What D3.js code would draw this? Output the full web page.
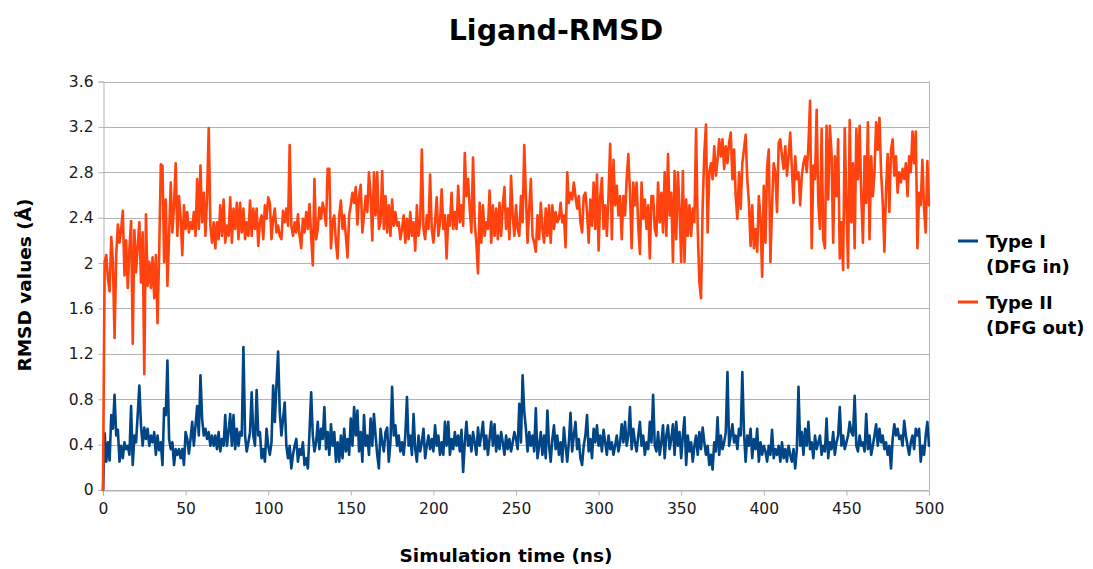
<!DOCTYPE html>
<html>
<head>
<meta charset="utf-8">
<script src="https://cdn.jsdelivr.net/npm/d3@7"></script>
<style>
  html, body { margin: 0; padding: 0; background: #ffffff; }
  svg { display: block; font-family: "DejaVu Sans", sans-serif; }
</style>
</head>
<body>
<svg id="chart" width="1093" height="569"></svg>
<script>
// Ligand RMSD over a 500 ns trajectory, one frame per ns
const seriesNames = ["Type I (DFG in)", "Type II (DFG out)"];
const seriesColors = ["#004586", "#ff420e"];

const typeI = [
  0, 0.50, 0.25, 0.42, 0.26, 0.66, 0.54, 0.84, 0.48, 0.53,
  0.25, 0.39, 0.28, 0.42, 0.36, 0.39, 0.31, 0.74, 0.22, 0.48,
  0.42, 0.66, 0.92, 0.57, 0.39, 0.55, 0.45, 0.54, 0.39, 0.48,
  0.42, 0.51, 0.31, 0.48, 0.35, 0.42, 0.22, 0.72, 0.66, 1.14,
  0.45, 0.36, 0.42, 0.22, 0.36, 0.31, 0.36, 0.28, 0.36, 0.22,
  0.51, 0.45, 0.32, 0.45, 0.60, 0.39, 0.57, 0.74, 0.48, 1.01,
  0.63, 0.48, 0.54, 0.45, 0.51, 0.39, 0.48, 0.39, 0.48, 0.36,
  0.51, 0.34, 0.45, 0.39, 0.66, 0.39, 0.51, 0.67, 0.39, 0.66,
  0.36, 0.54, 0.39, 0.51, 0.48, 1.26, 0.48, 0.34, 0.42, 0.51,
  0.86, 0.48, 0.39, 0.88, 0.48, 0.51, 0.28, 0.36, 0.25, 0.54,
  0.39, 0.31, 0.42, 0.92, 0.60, 0.93, 1.22, 0.69, 0.48, 0.63,
  0.77, 0.39, 0.28, 0.39, 0.19, 0.31, 0.39, 0.45, 0.25, 0.36,
  0.31, 0.42, 0.22, 0.28, 0.19, 0.51, 0.86, 0.48, 0.34, 0.42,
  0.60, 0.36, 0.54, 0.45, 0.73, 0.36, 0.51, 0.31, 0.58, 0.39,
  0.51, 0.25, 0.42, 0.25, 0.48, 0.28, 0.54, 0.34, 0.45, 0.31,
  0.63, 0.39, 0.73, 0.48, 0.70, 0.34, 0.51, 0.25, 0.66, 0.39,
  0.48, 0.31, 0.63, 0.39, 0.67, 0.48, 0.31, 0.19, 0.54, 0.42,
  0.34, 0.51, 0.55, 0.25, 0.42, 0.91, 0.48, 0.57, 0.39, 0.48,
  0.34, 0.42, 0.31, 0.48, 0.82, 0.39, 0.48, 0.31, 0.67, 0.36,
  0.25, 0.48, 0.34, 0.42, 0.54, 0.28, 0.39, 0.48, 0.36, 0.45,
  0.34, 0.57, 0.39, 0.48, 0.31, 0.42, 0.31, 0.60, 0.39, 0.60,
  0.31, 0.45, 0.36, 0.51, 0.39, 0.48, 0.34, 0.53, 0.16, 0.42,
  0.60, 0.39, 0.48, 0.34, 0.51, 0.42, 0.31, 0.55, 0.39, 0.48,
  0.60, 0.36, 0.48, 0.31, 0.45, 0.60, 0.39, 0.58, 0.34, 0.48,
  0.36, 0.51, 0.42, 0.31, 0.48, 0.36, 0.45, 0.34, 0.42, 0.51,
  0.45, 0.36, 0.76, 0.42, 1.01, 0.69, 0.54, 0.34, 0.51, 0.39,
  0.48, 0.34, 0.72, 0.28, 0.39, 0.51, 0.31, 0.48, 0.28, 0.70,
  0.39, 0.25, 0.45, 0.57, 0.36, 0.48, 0.31, 0.42, 0.25, 0.55,
  0.39, 0.25, 0.42, 0.68, 0.34, 0.48, 0.60, 0.36, 0.45, 0.28,
  0.22, 0.39, 0.48, 0.66, 0.34, 0.45, 0.28, 0.54, 0.42, 0.57,
  0.39, 0.48, 0.34, 0.53, 0.42, 0.31, 0.48, 0.36, 0.42, 0.31,
  0.39, 0.48, 0.34, 0.42, 0.58, 0.42, 0.60, 0.39, 0.48, 0.73,
  0.36, 0.54, 0.42, 0.34, 0.48, 0.60, 0.39, 0.48, 0.31, 0.42,
  0.36, 0.60, 0.42, 0.84, 0.39, 0.34, 0.51, 0.31, 0.42, 0.57,
  0.28, 0.48, 0.57, 0.36, 0.45, 0.58, 0.31, 0.60, 0.39, 0.51,
  0.28, 0.48, 0.64, 0.22, 0.48, 0.34, 0.42, 0.25, 0.39, 0.48,
  0.31, 0.51, 0.36, 0.55, 0.42, 0.31, 0.39, 0.22, 0.31, 0.18,
  0.42, 0.34, 0.64, 0.31, 0.48, 0.36, 0.42, 0.51, 1.04, 0.39,
  0.48, 0.58, 0.42, 0.48, 0.36, 0.54, 0.48, 1.04, 0.51, 0.25,
  0.48, 0.39, 0.54, 0.28, 0.45, 0.36, 0.54, 0.25, 0.42, 0.31,
  0.39, 0.34, 0.25, 0.39, 0.31, 0.53, 0.28, 0.36, 0.31, 0.39,
  0.25, 0.42, 0.28, 0.36, 0.25, 0.39, 0.31, 0.25, 0.36, 0.19,
  0.36, 0.91, 0.39, 0.51, 0.31, 0.54, 0.39, 0.60, 0.36, 0.42,
  0.28, 0.48, 0.36, 0.42, 0.48, 0.31, 0.39, 0.34, 0.63, 0.28,
  0.42, 0.36, 0.51, 0.31, 0.42, 0.48, 0.73, 0.39, 0.48, 0.36,
  0.42, 0.48, 0.60, 0.51, 0.48, 0.83, 0.39, 0.34, 0.48, 0.39,
  0.42, 0.34, 0.67, 0.36, 0.48, 0.31, 0.39, 0.48, 0.58, 0.39,
  0.54, 0.42, 0.48, 0.36, 0.42, 0.31, 0.39, 0.19, 0.45, 0.58,
  0.48, 0.54, 0.45, 0.48, 0.39, 0.61, 0.48, 0.39, 0.31, 0.42,
  0.48, 0.36, 0.54, 0.48, 0.54, 0.25, 0.39, 0.31, 0.48, 0.60, 0.39
];

const typeII = [
  0, 2.01, 2.07, 1.86, 1.75, 2.23, 2.01, 1.34, 2.07, 2.34,
  2.18, 2.30, 2.46, 1.89, 2.20, 1.78, 2.13, 2.37, 1.29, 2.29,
  1.92, 2.15, 2.36, 1.83, 2.27, 1.02, 2.43, 1.80, 2.01, 1.78,
  2.05, 1.69, 2.07, 1.47, 2.08, 2.87, 2.86, 2.01, 2.56, 1.80,
  2.24, 2.71, 2.27, 2.51, 2.88, 2.24, 2.59, 2.39, 2.07, 2.51,
  2.30, 2.45, 2.27, 2.36, 2.30, 2.45, 2.24, 2.74, 2.30, 2.86,
  2.36, 2.62, 2.24, 2.59, 3.19, 2.33, 2.18, 2.36, 2.13, 2.36,
  2.21, 2.51, 2.24, 2.56, 2.18, 2.33, 2.24, 2.58, 2.18, 2.48,
  2.30, 2.53, 2.21, 2.53, 2.27, 2.48, 2.21, 2.36, 2.24, 2.55,
  2.24, 2.48, 2.30, 2.48, 2.15, 2.36, 2.42, 2.21, 2.51, 2.39,
  2.58, 2.53, 2.21, 2.39, 2.48, 2.27, 2.33, 2.24, 2.21, 2.46,
  2.36, 2.48, 2.33, 3.04, 2.33, 2.24, 2.36, 2.27, 2.43, 2.24,
  2.13, 2.39, 2.27, 2.45, 2.30, 2.52, 2.24, 1.98, 2.74, 2.21,
  2.30, 2.49, 2.39, 2.53, 2.46, 2.33, 2.83, 2.83, 2.13, 2.36,
  2.42, 2.18, 2.04, 2.42, 2.55, 2.30, 2.42, 2.24, 2.05, 2.42,
  2.51, 2.62, 2.53, 2.67, 2.34, 2.59, 2.69, 2.27, 2.42, 2.59,
  2.45, 2.80, 2.59, 2.20, 2.80, 2.42, 2.80, 2.30, 2.36, 2.81,
  2.30, 2.59, 2.27, 2.51, 2.24, 2.56, 2.33, 2.45, 2.33, 2.36,
  2.21, 2.30, 2.42, 2.18, 2.39, 2.21, 2.45, 2.24, 2.36, 2.11,
  2.51, 2.24, 2.36, 3.00, 2.30, 2.21, 2.42, 2.30, 2.78, 2.30,
  2.18, 2.36, 2.58, 2.24, 2.36, 2.65, 2.30, 2.42, 2.04, 2.42,
  2.33, 2.62, 2.30, 2.45, 2.30, 2.68, 2.36, 2.51, 2.33, 2.97,
  2.59, 2.74, 2.48, 2.27, 2.93, 2.36, 2.18, 1.91, 2.53, 2.18,
  2.51, 2.24, 2.36, 2.30, 2.64, 2.18, 2.51, 2.24, 2.48, 2.21,
  2.53, 2.24, 2.51, 2.67, 2.30, 2.48, 2.21, 2.77, 2.42, 2.24,
  2.51, 2.30, 2.24, 2.59, 2.36, 3.04, 2.59, 2.18, 2.48, 2.74,
  2.24, 2.18, 2.10, 2.42, 2.21, 2.53, 2.30, 2.18, 2.48, 2.24,
  2.51, 2.18, 2.51, 2.30, 2.45, 2.36, 2.39, 2.53, 2.36, 2.42,
  2.14, 2.80, 2.53, 2.62, 2.56, 2.71, 2.59, 2.48, 2.59, 2.36,
  2.27, 2.59, 2.62, 2.45, 2.18, 2.56, 2.33, 2.71, 2.30, 2.78,
  2.11, 2.59, 2.75, 2.30, 2.51, 2.24, 2.59, 3.05, 2.21, 2.91,
  2.51, 2.68, 2.42, 2.59, 2.21, 2.59, 2.42, 2.74, 2.96, 2.62,
  2.13, 2.71, 2.51, 2.71, 2.33, 2.08, 2.71, 2.39, 2.56, 2.30,
  2.51, 2.04, 2.59, 2.59, 2.30, 2.24, 2.71, 2.36, 2.62, 2.27,
  2.80, 2.24, 2.96, 2.42, 2.62, 2.01, 2.81, 2.21, 2.80, 2.48,
  2.01, 2.81, 2.01, 2.56, 2.24, 2.51, 2.24, 2.48, 2.36, 3.18,
  2.30, 1.83, 1.69, 2.51, 2.97, 3.22, 2.27, 2.80, 2.88, 2.74,
  3.03, 2.77, 2.91, 3.09, 2.94, 3.09, 2.83, 3.03, 2.88, 3.06,
  3.15, 2.74, 3.00, 2.59, 2.39, 2.80, 2.48, 2.88, 3.00, 3.13,
  2.74, 2.53, 2.15, 2.51, 2.13, 2.30, 2.10, 2.59, 2.39, 1.88,
  2.68, 2.18, 2.84, 3.00, 2.01, 2.51, 2.88, 2.80, 2.45, 3.06,
  3.09, 2.94, 2.83, 3.03, 2.77, 2.94, 3.15, 2.83, 2.53, 2.94,
  2.74, 2.80, 2.51, 2.77, 2.88, 2.94, 2.80, 3.03, 3.43, 2.13,
  2.86, 2.74, 3.35, 2.53, 2.30, 3.18, 2.21, 2.13, 3.21, 2.56,
  3.21, 2.97, 2.18, 2.94, 2.59, 3.09, 2.04, 2.36, 1.94, 3.19,
  2.51, 1.96, 3.26, 2.36, 2.88, 2.13, 3.18, 2.74, 3.21, 2.59,
  2.18, 2.94, 2.53, 3.24, 2.21, 2.94, 2.59, 2.80, 3.24, 3.00,
  3.28, 2.80, 2.53, 2.10, 2.65, 2.96, 2.45, 3.00, 3.09, 2.77,
  2.94, 2.62, 2.80, 2.71, 2.83, 2.74, 2.88, 2.59, 2.94, 2.80,
  3.16, 2.88, 3.16, 2.13, 2.62, 2.51, 2.91, 2.48, 2.27, 2.90, 2.51
];

const timeStepNs = 1;
const xTicks = [0, 50, 100, 150, 200, 250, 300, 350, 400, 450, 500];
const yTicks = [0, 0.4, 0.8, 1.2, 1.6, 2, 2.4, 2.8, 3.2, 3.6];
const yTickLabels = ["0", "0.4", "0.8", "1.2", "1.6", "2", "2.4", "2.8", "3.2", "3.6"];

const titleText = "Ligand-RMSD";
const xTitle = "Simulation time (ns)";
const yTitle = "RMSD values (Å)";
const legendLines = [["Type I", "(DFG in)"], ["Type II", "(DFG out)"]];

const svg = d3.select("#chart");
const W = 1093, H = 569;
const plot = { left: 103, right: 929, top: 81.5, bottom: 490 };

svg.append("rect").attr("width", W).attr("height", H).attr("fill", "#ffffff");

const x = d3.scaleLinear().domain([0, 500]).range([plot.left, plot.right]);
const y = d3.scaleLinear().domain([0, 3.6]).range([plot.bottom, plot.top]);

const gridColor = "#b3b3b3";

// horizontal grid lines
svg.append("g")
  .selectAll("line")
  .data(yTicks)
  .join("line")
  .attr("x1", plot.left)
  .attr("x2", plot.right)
  .attr("y1", d => Math.round(y(d)) + 0.5)
  .attr("y2", d => Math.round(y(d)) + 0.5)
  .attr("stroke", gridColor)
  .attr("stroke-width", 1);

// right border of plot wall
svg.append("line")
  .attr("x1", plot.right + 0.5).attr("x2", plot.right + 0.5)
  .attr("y1", y(3.6)).attr("y2", plot.bottom)
  .attr("stroke", gridColor);

// y axis
const yAxis = d3.axisLeft(y)
  .tickValues(yTicks)
  .tickFormat((d, i) => yTickLabels[i])
  .tickSize(5)
  .tickPadding(5);
const gy = svg.append("g")
  .attr("transform", `translate(${plot.left + 0.5},0)`)
  .call(yAxis);
gy.select(".domain").attr("stroke", gridColor);
gy.selectAll(".tick line").attr("stroke", gridColor);
gy.selectAll(".tick text")
  .attr("font-family", "DejaVu Sans")
  .attr("font-size", 15.5)
  .attr("fill", "#1a1a1a");

// x axis
const xAxis = d3.axisBottom(x)
  .tickValues(xTicks)
  .tickFormat(d3.format("d"))
  .tickSize(5)
  .tickPadding(7);
const gx = svg.append("g")
  .attr("transform", `translate(0,${Math.round(plot.bottom) + 0.5})`)
  .call(xAxis);
gx.select(".domain").attr("stroke", gridColor);
gx.selectAll(".tick line").attr("stroke", gridColor);
gx.selectAll(".tick text")
  .attr("font-family", "DejaVu Sans")
  .attr("font-size", 15.5)
  .attr("fill", "#1a1a1a");

// series lines
const line = d3.line()
  .x((d, i) => x(i * timeStepNs))
  .y(d => y(d));

const plotG = svg.append("g");
[typeI, typeII].forEach((vals, k) => {
  plotG.append("path")
    .datum(vals)
    .attr("d", line)
    .attr("fill", "none")
    .attr("stroke", seriesColors[k])
    .attr("stroke-width", 2.6)
    .attr("stroke-linejoin", "round")
    .attr("stroke-linecap", "round");
});

// titles
svg.append("text")
  .attr("x", 556).attr("y", 40)
  .attr("text-anchor", "middle")
  .attr("font-family", "DejaVu Sans")
  .attr("font-weight", "bold")
  .attr("font-size", 28.5)
  .attr("fill", "#000")
  .text(titleText);

svg.append("text")
  .attr("x", 506).attr("y", 562)
  .attr("text-anchor", "middle")
  .attr("font-family", "DejaVu Sans")
  .attr("font-weight", "bold")
  .attr("font-size", 18.5)
  .attr("fill", "#000")
  .text(xTitle);

svg.append("text")
  .attr("transform", "translate(31,285) rotate(-90)")
  .attr("text-anchor", "middle")
  .attr("font-family", "DejaVu Sans")
  .attr("font-weight", "bold")
  .attr("font-size", 18.5)
  .attr("fill", "#000")
  .text(yTitle);

// legend
const legend = svg.append("g");
const legendY = [241, 302];
legendLines.forEach((lines, k) => {
  legend.append("line")
    .attr("x1", 958).attr("x2", 978)
    .attr("y1", legendY[k]).attr("y2", legendY[k])
    .attr("stroke", seriesColors[k])
    .attr("stroke-width", 3);
  lines.forEach((t, j) => {
    legend.append("text")
      .attr("x", 986)
      .attr("y", legendY[k] + 7 + j * 25)
      .attr("font-family", "DejaVu Sans")
      .attr("font-weight", "bold")
      .attr("font-size", 18)
      .attr("fill", "#000")
      .text(t);
  });
});
</script>
</body>
</html>
